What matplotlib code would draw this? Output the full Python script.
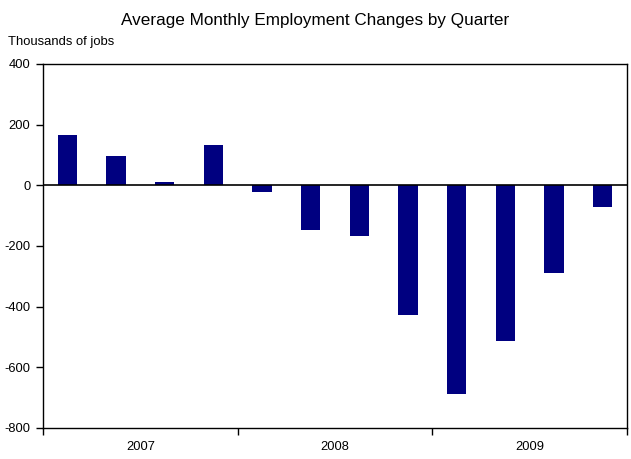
import numpy as np
import matplotlib
matplotlib.use("Agg")
import matplotlib.pyplot as plt

plt.rcParams['font.family'] = ['Liberation Sans', 'DejaVu Sans']

# Average monthly employment change per quarter (thousands of jobs)
quarters = ["2007Q1", "2007Q2", "2007Q3", "2007Q4",
            "2008Q1", "2008Q2", "2008Q3", "2008Q4",
            "2009Q1", "2009Q2", "2009Q3", "2009Q4"]
changes = [166, 97, 10, 133, -21, -148, -168, -428, -689, -514, -290, -72]
years = ["2007", "2008", "2009"]
yTicks = [400, 200, 0, -200, -400, -600, -800]

fig = plt.figure(figsize=(6.31, 4.59), dpi=100)
ax = fig.add_axes([43 / 631, 1 - 428 / 459, 584 / 631, 364 / 459])

x = np.arange(len(quarters))
ax.bar(x, changes, width=0.4, color="#000080", zorder=2)
ax.axhline(0, color="black", linewidth=1.2, zorder=3)

ax.set_xlim(-0.5, len(quarters) - 0.5)
ax.set_ylim(-800, 400)
ax.set_yticks(yTicks)
ax.set_yticklabels([str(v) for v in yTicks], fontsize=9.3)

# year boundary ticks, year labels centred under each group of four
ax.set_xticks([-0.5, 3.5, 7.5, 11.5])
ax.set_xticklabels([])
ax.set_xticks([1.5, 5.5, 9.5], minor=True)
ax.set_xticklabels(years, minor=True, fontsize=9.3)
ax.tick_params(axis="x", which="minor", length=0, pad=9)
ax.tick_params(axis="x", which="major", length=5, width=1, direction="out")
ax.tick_params(axis="y", length=5, width=1, direction="out", pad=4)

for spine in ax.spines.values():
    spine.set_linewidth(1)
    spine.set_color("black")

fig.text(0.5, 1 - 20 / 459, "Average Monthly Employment Changes by Quarter",
         ha="center", va="center", fontsize=12.3)
fig.text(8 / 631, 1 - 42 / 459, "Thousands of jobs", ha="left", va="center", fontsize=9.4)

fig.savefig("out.png", dpi=100)
